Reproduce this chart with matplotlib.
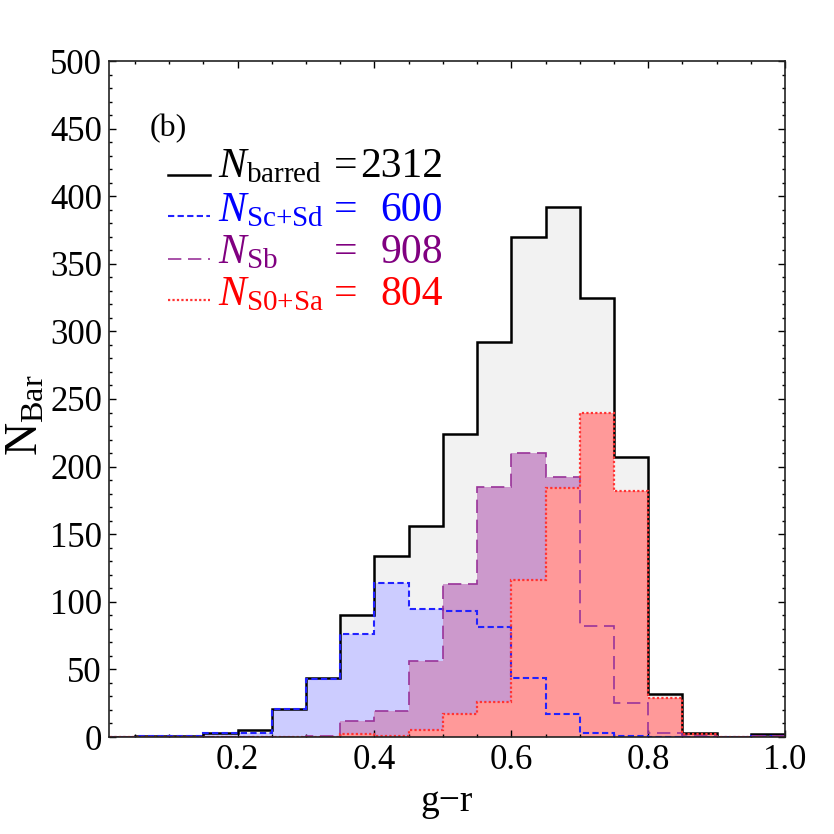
import matplotlib
matplotlib.use("Agg")
import matplotlib.pyplot as plt
from matplotlib.lines import Line2D
from matplotlib.ticker import MultipleLocator
import numpy as np

plt.rcParams['font.family'] = ['Liberation Serif', 'DejaVu Serif']
plt.rcParams['mathtext.fontset'] = 'custom'
plt.rcParams['mathtext.rm'] = 'Liberation Serif'
plt.rcParams['mathtext.it'] = 'Liberation Serif:italic'

# bin edges (g-r colour) and counts per bin
edges = [0.00, 0.05, 0.10, 0.15, 0.20, 0.25, 0.30, 0.35, 0.40, 0.45, 0.50,
         0.55, 0.60, 0.65, 0.70, 0.75, 0.80, 0.85, 0.90, 0.95, 1.00]
n_barred = [0, 1, 1, 3, 5, 21, 44, 90, 134, 156, 224, 292, 370, 392, 325, 207, 32, 3, 0, 2]
n_scsd   = [0, 1, 1, 3, 3, 21, 43, 76, 114, 95, 93, 81, 44, 17, 3, 1, 0, 0, 0, 1]
n_sb     = [0, 0, 0, 0, 0, 0, 1, 12, 19, 56, 113, 185, 210, 192, 82, 25, 3, 1, 0, 1]
n_s0sa   = [0, 0, 0, 0, 0, 0, 0, 2, 1, 5, 17, 26, 116, 184, 240, 182, 29, 2, 0, 0]

labels_sub = ['barred', 'Sc{+}Sd', 'Sb', 'S0{+}Sa']
totals = ['2312', '600', '908', '804']

fig = plt.figure(figsize=(8.34, 8.34), dpi=100)
ax = fig.add_axes([109/834, 1-737/834, (785-109)/834, (737-61)/834])

fills = ['#f2f2f2', '#ccccff', '#cc99cc', '#ff9999']
lcols = ['black', '#2222ff', '#993399', '#ff3333']
lstyles = ['-', (0, (3, 1.6)), (0, (8, 4)), (0, (1, 1))]
lws = [1.8, 1.5, 1.2, 1.6]
series = [n_barred, n_scsd, n_sb, n_s0sa]

for s, fc in zip(series, fills):
    ax.stairs(s, edges, fill=True, color=fc, lw=0, zorder=1)
for s, lc, ls, lw in zip(series, lcols, lstyles, lws):
    ax.stairs(s, edges, fill=False, color=lc, ls=ls, lw=lw, zorder=2)

ax.set_xlim(0.012, 1.0)
ax.set_ylim(0, 500)
ax.xaxis.set_major_locator(MultipleLocator(0.2))
ax.xaxis.set_minor_locator(MultipleLocator(0.05))
ax.yaxis.set_major_locator(MultipleLocator(50))
ax.yaxis.set_minor_locator(MultipleLocator(10))
ax.set_xticks([0.2, 0.4, 0.6, 0.8, 1.0])
ax.set_xticklabels(['0.2', '0.4', '0.6', '0.8', '1.0'])
ax.tick_params(which='both', direction='in', top=True, right=True, labelsize=25, width=1.0)
ax.tick_params(which='major', length=5, pad=5)
ax.tick_params(which='minor', length=2.5)
for sp in ax.spines.values():
    sp.set_linewidth(1.2)
    sp.set_color('#222222')

ax.set_xlabel('g\u2212r', fontsize=27)
ax.xaxis.set_label_coords(0.5, -0.07)
ax.set_ylabel(r'$\mathrm{N}_{\mathrm{Bar}}$', fontsize=33)
ax.yaxis.set_label_coords(-0.09, 0.476)

def fx(px):
    return px / 834
def fy(py):
    return 1 - py / 834

fig.text(fx(150), fy(136), '(b)', fontsize=23, ha='left', va='baseline')

baselines = [177, 221, 263, 305]
line_y = [175, 216, 259, 300]
tcols = ['black', 'blue', '#800080', 'red']
for i in range(4):
    fig.add_artist(Line2D([fx(168), fx(210)], [fy(line_y[i])]*2, color=lcols[i],
                          ls=lstyles[i], lw=lws[i]))
    fig.text(fx(218), fy(baselines[i]), r'$N_{\mathrm{%s}}$' % labels_sub[i],
             fontsize=30, color=tcols[i], ha='left', va='baseline')
    fig.text(fx(334), fy(baselines[i]), '=', fontsize=30, color=tcols[i],
             ha='left', va='baseline')
    fig.text(fx(443), fy(baselines[i]), totals[i], fontsize=30, color=tcols[i],
             ha='right', va='baseline')

fig.savefig('out.png', dpi=100)
